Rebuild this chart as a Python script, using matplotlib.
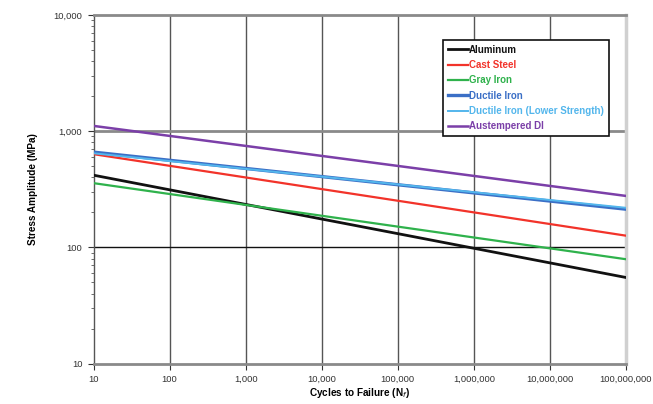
import matplotlib
matplotlib.use("Agg")
from matplotlib import pyplot as plt
from matplotlib.ticker import FixedLocator, LogLocator, NullFormatter

plt.rcParams['font.family'] = ['Liberation Sans', 'DejaVu Sans']

# endpoints of each S-N curve (straight lines on log-log axes)
cycles = [10, 100000000]
aluminum = [418, 55]
cast_steel = [634, 126]
gray_iron = [357, 79]
ductile_iron = [660, 213]
ductile_iron_low = [645, 219]
austempered_di = [1110, 277]

names = ["Aluminum", "Cast Steel", "Gray Iron", "Ductile Iron",
         "Ductile Iron (Lower Strength)", "Austempered DI"]
colors = ["#111111", "#f2332a", "#2fb24c", "#3b6fc6", "#53b6ec", "#7b3fa8"]

x_ticks = [10, 100, 1000, 10000, 100000, 1000000, 10000000, 100000000]
x_labels = ["10", "100", "1,000", "10,000", "100,000", "1,000,000",
            "10,000,000", "100,000,000"]
y_ticks = [10, 100, 1000, 10000]
y_labels = ["10", "100", "1,000", "10,000"]

fig = plt.figure(figsize=(6.53, 4.04), dpi=100)
ax = fig.add_axes([0.1432, 0.1002, 0.8155, 0.8627])

# grid: decades on x, two horizontal lines like the original
for xv in x_ticks[1:-1]:
    ax.axvline(xv, color="#555555", lw=1.0, zorder=1)
ax.axhline(1000, color="#8a8a8a", lw=2.0, zorder=1)
ax.axhline(100, color="#111111", lw=1.0, zorder=1)

series = [aluminum, cast_steel, gray_iron, ductile_iron, ductile_iron_low, austempered_di]
widths = [2.0, 1.6, 1.6, 2.4, 1.4, 1.8]
for vals, name, c, w in zip(series, names, colors, widths):
    ax.plot(cycles, vals, color=c, lw=w, label=name, zorder=3)

ax.set_xscale("log")
ax.set_yscale("log")
ax.set_xlim(10, 100000000)
ax.set_ylim(10, 10000)

ax.xaxis.set_major_locator(FixedLocator(x_ticks))
ax.set_xticklabels(x_labels)
ax.xaxis.set_minor_locator(FixedLocator([]))
ax.yaxis.set_major_locator(FixedLocator(y_ticks))
ax.set_yticklabels(y_labels)
ax.yaxis.set_minor_locator(LogLocator(base=10, subs=range(2, 10)))
ax.yaxis.set_minor_formatter(NullFormatter())

ax.tick_params(axis="both", which="major", labelsize=6.8, colors="#333333",
               length=4, width=0.8, direction="out", pad=4)
ax.tick_params(axis="y", which="minor", length=2, width=0.6, color="#555555")

ax.spines["left"].set_color("#555555")
ax.spines["left"].set_linewidth(1.0)
ax.spines["bottom"].set_color("#8a8a8a")
ax.spines["bottom"].set_linewidth(2.0)
ax.spines["top"].set_color("#8a8a8a")
ax.spines["top"].set_linewidth(2.0)
ax.spines["right"].set_color("#d0d0d0")
ax.spines["right"].set_linewidth(2.5)

ax.set_xlabel("Cycles to Failure (N$_f$)", fontsize=7.2, fontweight="bold", labelpad=2)
ax.set_ylabel("Stress Amplitude (MPa)", fontsize=7.2, fontweight="bold", labelpad=11)

leg = ax.legend(loc="upper left", bbox_to_anchor=(0.648, 0.943),
                frameon=True, fancybox=False, edgecolor="#111111", framealpha=1,
                handlelength=2.0, handletextpad=0.15, borderpad=0.5, labelspacing=0.55,
                prop={"weight": "bold", "size": 7.0})
leg.get_frame().set_linewidth(1.2)
for txt, c in zip(leg.get_texts(), colors):
    txt.set_color(c)

plt.savefig("out.png", dpi=100)
plt.close()
